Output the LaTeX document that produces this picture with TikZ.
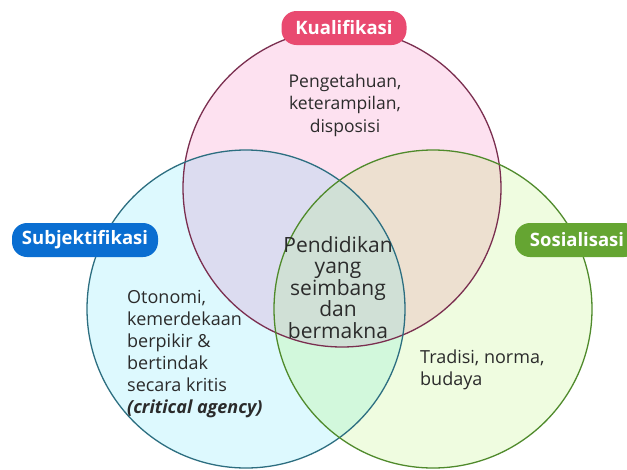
\documentclass[tikz,border=0pt]{standalone}
\usepackage{fontspec}
\setmainfont{Open Sans}
% circle fills, overlaps and outlines
\definecolor{pinkF}{HTML}{FDE1F0}
\definecolor{cyanF}{HTML}{DDF9FE}
\definecolor{greenF}{HTML}{EFFCE0}
\definecolor{pinkCyan}{HTML}{DCDCF0}
\definecolor{pinkGreen}{HTML}{EDE0D0}
\definecolor{cyanGreen}{HTML}{D2F8DC}
\definecolor{allF}{HTML}{D0E0D6}
\definecolor{pinkS}{HTML}{7A2E4F}
\definecolor{cyanS}{HTML}{2C6E80}
\definecolor{greenS}{HTML}{4F8A2B}
% label pills and text
\definecolor{kualC}{HTML}{E94A70}
\definecolor{subC}{HTML}{0A6ED1}
\definecolor{sosC}{HTML}{65A532}
\definecolor{ink}{HTML}{2B2B2B}

\begin{document}
\begin{tikzpicture}[x=1pt,y=-1pt,
  pill/.style={rounded corners=15pt, minimum height=34pt, inner xsep=0pt,
    text=white, font=\fontsize{18.5}{20}\selectfont\bfseries},
  body/.style={text=ink, font=\fontsize{18}{22}\selectfont, inner sep=0pt},
  ring/.style={line width=1.3pt}]
\useasboundingbox (0,0) rectangle (627,469);
\clip (0,0) rectangle (627,469);

\def\cK{(342,188) circle (159pt)}
\def\cS{(246,309) circle (159pt)}
\def\cG{(433,309) circle (159pt)}

% single-set fills
\fill[pinkF] \cK;
\fill[cyanF] \cS;
\fill[greenF] \cG;
% pairwise overlaps
\begin{scope}\clip \cK; \fill[pinkCyan] \cS; \end{scope}
\begin{scope}\clip \cK; \fill[pinkGreen] \cG; \end{scope}
\begin{scope}\clip \cS; \fill[cyanGreen] \cG; \end{scope}
% common centre
\begin{scope}\clip \cK; \clip \cS; \fill[allF] \cG; \end{scope}

% outlines
\draw[ring, pinkS] \cK;
\draw[ring, cyanS] \cS;
\draw[ring, greenS] \cG;

% set labels
\node[pill, fill=kualC, minimum width=125pt] (kual) at (344,28) {Kualifikasi};
\node[pill, fill=subC, minimum width=146pt] (subj) at (85,240) {Subjektifikasi};
\node[pill, fill=sosC, minimum width=124pt] (sos) at (577,240) {Sosialisasi};

% region texts
\node[body, align=center, anchor=north, font=\fontsize{17.5}{22.5}\selectfont]
  (kualT) at (345,74) {Pengetahuan,\\keterampilan,\\disposisi};
\node[body, align=center, anchor=north, font=\fontsize{21}{21.5}\selectfont]
  (centerT) at (338,236) {Pendidikan\\yang\\seimbang\\dan\\bermakna};
\node[body, align=left, anchor=north west] (subjT) at (127,290)
  {Otonomi,\\kemerdekaan\\berpikir \&\\bertindak\\secara kritis\\{\bfseries\itshape(critical agency)}};
\node[body, align=left, anchor=north west] (sosT) at (420,350) {Tradisi, norma,\\budaya};
\end{tikzpicture}
\end{document}
